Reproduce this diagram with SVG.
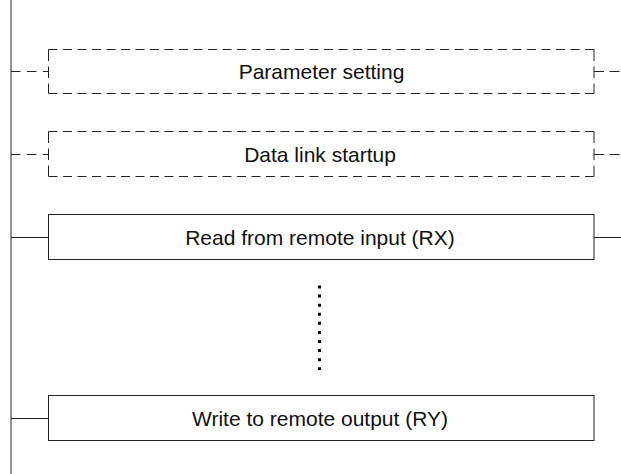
<svg xmlns="http://www.w3.org/2000/svg" width="621" height="474" viewBox="0 0 621 474">
<style>
.t{font-family:"Liberation Sans",Arial,sans-serif;font-size:21px;fill:#111;text-anchor:middle}
.s{stroke:#222;stroke-width:1;fill:none}
.dh{stroke:#222;stroke-width:1;fill:none;stroke-dasharray:9 5.5}
.dv{stroke:#222;stroke-width:1;fill:none;stroke-dasharray:11.5 5.5}
.ds{stroke:#222;stroke-width:1;fill:none;stroke-dasharray:9.5 6.5}
</style>
<rect width="621" height="474" fill="#fff"/>
<g id="connectors">
<line class="s" x1="11" y1="0" x2="11" y2="474"/>
<line class="ds" x1="11" y1="71.5" x2="48.5" y2="71.5"/>
<line class="ds" x1="594" y1="71.5" x2="621" y2="71.5" style="stroke-dasharray:10 5.5"/>
<line class="ds" x1="11" y1="154.5" x2="48.5" y2="154.5"/>
<line class="ds" x1="594" y1="154.5" x2="621" y2="154.5" style="stroke-dasharray:10 5.5"/>
<line class="s" x1="11" y1="237.5" x2="48.5" y2="237.5"/>
<line class="s" x1="594" y1="237.5" x2="621" y2="237.5"/>
<line class="s" x1="11" y1="418.5" x2="48.5" y2="418.5"/>
<line x1="319.5" y1="285.5" x2="319.5" y2="370" stroke="#000" stroke-width="3" stroke-dasharray="3 6.08"/>
</g>
<g id="node-parameter-setting">
<line class="dh" x1="48.5" y1="49.5" x2="594" y2="49.5"/>
<line class="dh" x1="48.5" y1="93.5" x2="594" y2="93.5"/>
<line class="dv" x1="48.5" y1="49.5" x2="48.5" y2="93.5"/>
<line class="dv" x1="594" y1="49.5" x2="594" y2="93.5"/>
<text class="t" x="321.5" y="78.5">Parameter setting</text>
</g>
<g id="node-data-link-startup">
<line class="dh" x1="48.5" y1="131.5" x2="594" y2="131.5"/>
<line class="dh" x1="48.5" y1="176.5" x2="594" y2="176.5"/>
<line class="dv" x1="48.5" y1="131.5" x2="48.5" y2="176.5"/>
<line class="dv" x1="594" y1="131.5" x2="594" y2="176.5"/>
<text class="t" x="320" y="161.5">Data link startup</text>
</g>
<g id="node-read-rx">
<rect class="s" x="48.5" y="214.5" width="545.5" height="45"/>
<text class="t" x="320" y="245">Read from remote input (RX)</text>
</g>
<g id="node-write-ry">
<rect class="s" x="48.5" y="395.5" width="545.5" height="45"/>
<text class="t" x="320" y="426">Write to remote output (RY)</text>
</g>
</svg>
